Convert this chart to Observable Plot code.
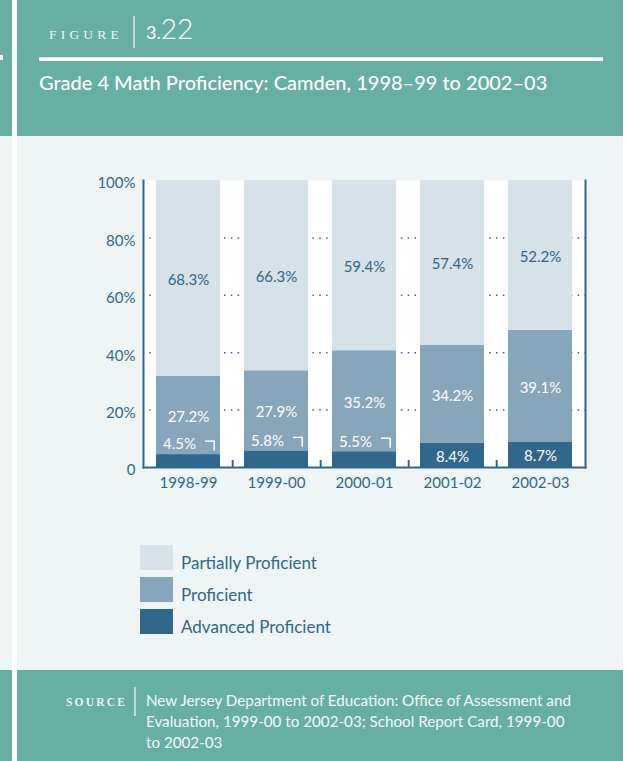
<!DOCTYPE html>
<html><head><meta charset="utf-8">
<script src="https://cdn.jsdelivr.net/npm/d3@7"></script>
<script src="https://cdn.jsdelivr.net/npm/@observablehq/plot@0.6"></script>
<style>
html,body{margin:0;padding:0;background:#ffffff;}
#page{position:relative;width:628px;height:761px;overflow:hidden;background:#ffffff;font-family:Lato,"Open Sans",sans-serif;}
.band{position:absolute;left:0;width:623px;}
#top{top:0;height:136px;background:#67aea3;}
#mid{top:136px;height:534px;background:#eff5f5;}
#bot{top:670px;height:91px;background:#67aea3;}
#vline{position:absolute;left:12px;top:0;width:5px;height:761px;background:#ffffff;}
#mark{position:absolute;left:0;top:55px;width:3px;height:5px;background:#ffffff;}
.abs{position:absolute;left:0;}
</style></head>
<body>
<div id="page">
  <div id="top" class="band"></div>
  <div id="mid" class="band"></div>
  <div id="bot" class="band"></div>
  <div id="vline"></div>
  <div id="mark"></div>
  <svg id="header" class="abs" style="top:0" width="628" height="136"></svg>
  <div id="chart" class="abs" style="top:136px"></div>
  <svg id="legend" class="abs" style="top:530px" width="628" height="110"></svg>
  <svg id="footer" class="abs" style="top:670px" width="628" height="91"></svg>
</div>
<script>
// ---- data ----
const years = ["1998-99", "1999-00", "2000-01", "2001-02", "2002-03"];
const partiallyProficient = [68.3, 66.3, 59.4, 57.4, 52.2];
const proficient = [27.2, 27.9, 35.2, 34.2, 39.1];
const advancedProficient = [4.5, 5.8, 5.5, 8.4, 8.7];
const levels = ["Advanced Proficient", "Proficient", "Partially Proficient"];
const levelColors = ["#30678b", "#87a6bc", "#d6e1e8"];
const yTicks = [0, 20, 40, 60, 80, 100];
const gridTicks = [20, 40, 60, 80];
const titleText = "Grade 4 Math Proficiency: Camden, 1998\u201399 to 2002\u201303";
const figureLabel = "FIGURE";
const figureNumber = ["3.", "22"];
const sourceLabel = "SOURCE";
const sourceLines = [
  "New Jersey Department of Education: Office of Assessment and",
  "Evaluation, 1999-00 to 2002-03; School Report Card, 1999-00",
  "to 2002-03"
];

const rows = years.flatMap((year, i) => [
  {year, level: levels[0], value: advancedProficient[i]},
  {year, level: levels[1], value: proficient[i]},
  {year, level: levels[2], value: partiallyProficient[i]}
]);
const smallAdvanced = rows.filter(d => d.level === levels[0] && d.value < 7);

// ---- chart ----
const W = 628, H = 364, mL = 143, mR = 43, mT = 44, mB = 33;
const ink = "#30678b";
const step = (W - mL - mR) / years.length;
const pxPerUnit = (H - mT - mB) / 100;
const fmt = v => v.toFixed(1) + "%";

const chart = Plot.plot({
  width: W, height: H,
  marginLeft: mL, marginRight: mR, marginTop: mT, marginBottom: mB,
  style: {fontFamily: "Lato", fontSize: "15px", color: ink, background: "transparent", overflow: "visible"},
  x: {domain: years, paddingInner: 0.277, paddingOuter: 0.1385},
  y: {domain: [0, 100]},
  color: {domain: levels, range: levelColors},
  marks: [
    Plot.frame({fill: "white", stroke: "none"}),
    Plot.ruleY(gridTicks, {stroke: ink, strokeWidth: 1.5, strokeDasharray: "1.5 5.3", strokeDashoffset: 0.55}),
    Plot.barY(rows, {x: "year", y: "value", fill: "level", order: levels}),
    Plot.text(rows, Plot.stackY({
      x: "year", y: "value", z: "level", order: levels,
      text: d => d.level === levels[2] ? fmt(d.value) : null,
      fill: ink, dy: 1.5, fontSize: 15
    })),
    Plot.text(rows, Plot.stackY({
      x: "year", y: "value", z: "level", order: levels,
      text: d => (d.level === levels[1] || (d.level === levels[0] && d.value >= 7)) ? fmt(d.value) : null,
      fill: "white", dy: 1.5, fontSize: 15
    })),
    Plot.text(smallAdvanced, {x: "year", y: "value", text: d => fmt(d.value), fill: "white", dx: -9, dy: -10, fontSize: 15}),
    Plot.tickY(smallAdvanced, {x: "year", y: "value", dy: -13.5, insetLeft: 49, insetRight: 6.3, stroke: "white", strokeWidth: 1.5}),
    Plot.ruleX(smallAdvanced, {x: "year", y1: "value", y2: d => d.value + 10 / pxPerUnit, dx: 25.7, dy: -3.5, stroke: "white", strokeWidth: 1.5}),
    Plot.ruleX(years.slice(0, -1), {x: d => d, y1: 0, y2: 7 / pxPerUnit, dx: step / 2, stroke: ink, strokeWidth: 2}),
    Plot.frame({anchor: "left", stroke: ink, strokeWidth: 2}),
    Plot.frame({anchor: "right", stroke: ink, strokeWidth: 2}),
    Plot.frame({anchor: "bottom", stroke: ink, strokeWidth: 2}),
    Plot.axisY(yTicks, {tickSize: 0, tickPadding: 8, tickFormat: d => d === 0 ? "0" : d + "%", label: null, dy: 3, fontSize: 15}),
    Plot.axisX({tickSize: 0, tickPadding: 10, label: null, fontSize: 15})
  ]
});
document.getElementById("chart").appendChild(chart);

// ---- header / legend / footer text ----
const NS = "http://www.w3.org/2000/svg";
function el(parent, tag, attrs, text) {
  const e = document.createElementNS(NS, tag);
  for (const k in attrs) e.setAttribute(k, attrs[k]);
  if (text != null) e.textContent = text;
  parent.appendChild(e);
  return e;
}
const hdr = document.getElementById("header");
el(hdr, "text", {x: 49, y: 39, "font-family": "Liberation Serif", "font-size": 13.5, "letter-spacing": 4.2, fill: "#f1f8f7"}, figureLabel);
el(hdr, "line", {x1: 134, x2: 134, y1: 16, y2: 48, stroke: "#dcedea", "stroke-width": 1.5});
const num = el(hdr, "text", {x: 146, y: 39, "font-family": "Lato", fill: "white"});
el(num, "tspan", {"font-size": 18}, figureNumber[0]);
el(num, "tspan", {"font-size": 28, "font-weight": 300}, figureNumber[1]);
el(hdr, "rect", {x: 39, y: 57.3, width: 564, height: 3.6, fill: "white"});
el(hdr, "text", {x: 39, y: 90, "font-family": "Lato", "font-size": 20, "font-weight": 500, fill: "white"}, titleText);

const leg = document.getElementById("legend");
[...levels].reverse().forEach((lv, i) => {
  const c = levelColors[levels.indexOf(lv)];
  el(leg, "rect", {x: 140, y: 15 + i * 32, width: 33, height: 25, fill: c});
  el(leg, "text", {x: 181, y: 39 + i * 32, "font-family": "Lato", "font-size": 17, fill: ink}, lv);
});

const ftr = document.getElementById("footer");
el(ftr, "text", {x: 66, y: 35.7, "font-family": "Liberation Serif", "font-size": 11.5, "font-weight": "bold", "letter-spacing": 2.2, fill: "#eef7f5"}, sourceLabel);
el(ftr, "line", {x1: 135, x2: 135, y1: 17, y2: 46, stroke: "#dcedea", "stroke-width": 1.5});
sourceLines.forEach((t, i) => {
  el(ftr, "text", {x: 146, y: 35.7 + i * 21.3, "font-family": "Lato", "font-size": 15.2, fill: "#f4faf9"}, t);
});
</script>
</body></html>
